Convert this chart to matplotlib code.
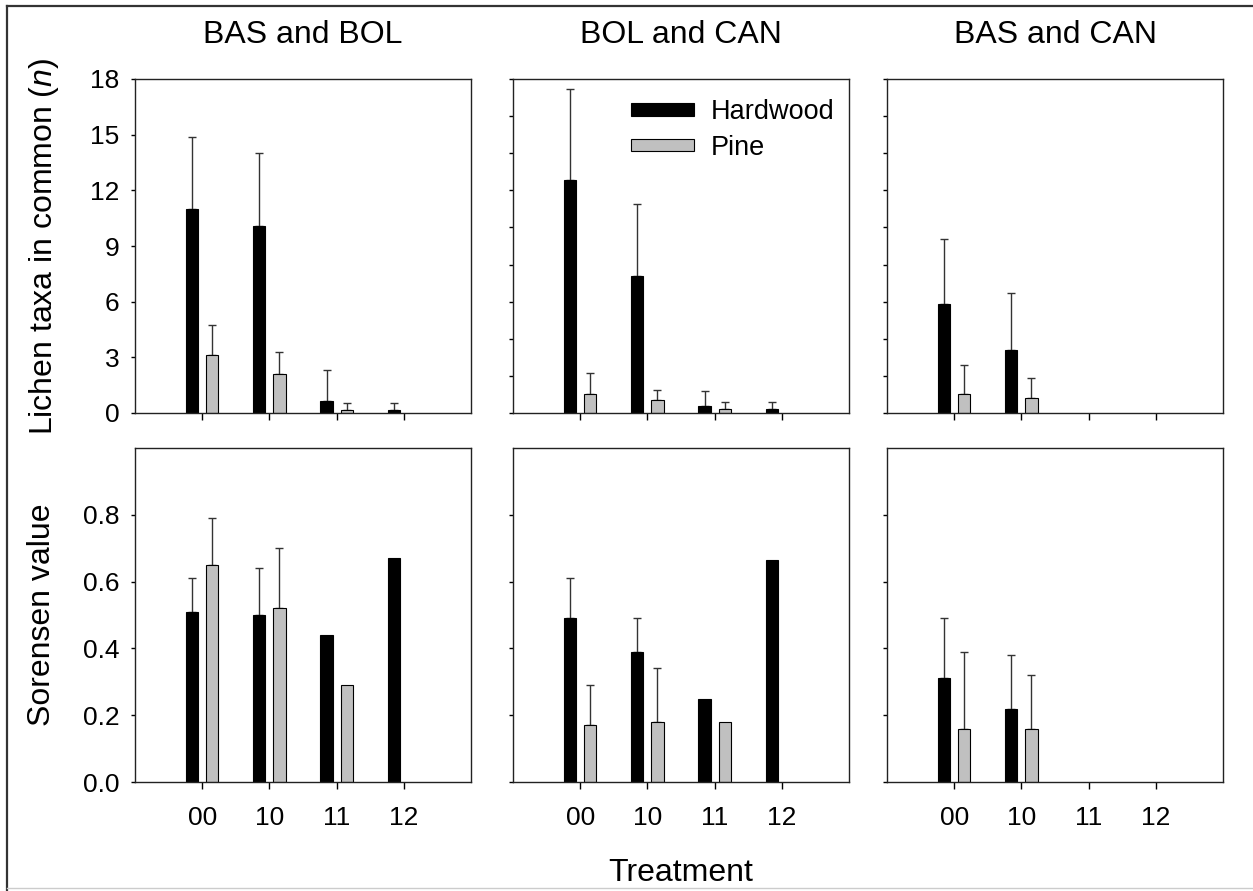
import numpy as np
import matplotlib
matplotlib.use("Agg")
import matplotlib.pyplot as plt
from matplotlib.lines import Line2D
from matplotlib.patches import Patch

plt.rcParams["font.family"] = ["Liberation Sans", "DejaVu Sans"]
plt.rcParams["mathtext.fontset"] = "custom"
plt.rcParams["mathtext.rm"] = "Liberation Sans"
plt.rcParams["mathtext.it"] = "Liberation Sans:italic"

treatments = ["00", "10", "11", "12"]
pairs = ["BAS and BOL", "BOL and CAN", "BAS and CAN"]

# lichen taxa in common (n): mean and upper SE, per pair
taxa_hard = [[11.0, 10.1, 0.65, 0.15],
             [12.55, 7.4, 0.4, 0.2],
             [5.9, 3.4, np.nan, np.nan]]
taxa_hard_se = [[3.9, 3.9, 1.65, 0.4],
                [4.9, 3.85, 0.8, 0.4],
                [3.5, 3.05, np.nan, np.nan]]
taxa_pine = [[3.15, 2.1, 0.15, np.nan],
             [1.05, 0.72, 0.2, np.nan],
             [1.05, 0.83, np.nan, np.nan]]
taxa_pine_se = [[1.6, 1.2, 0.4, np.nan],
                [1.1, 0.5, 0.4, np.nan],
                [1.55, 1.07, np.nan, np.nan]]

# Sorensen similarity
sor_hard = [[0.51, 0.50, 0.44, 0.67],
            [0.49, 0.39, 0.25, 0.665],
            [0.31, 0.22, np.nan, np.nan]]
sor_hard_se = [[0.10, 0.14, np.nan, np.nan],
               [0.12, 0.10, np.nan, np.nan],
               [0.18, 0.16, np.nan, np.nan]]
sor_pine = [[0.65, 0.52, 0.29, np.nan],
            [0.17, 0.18, 0.18, np.nan],
            [0.16, 0.16, np.nan, np.nan]]
sor_pine_se = [[0.14, 0.18, np.nan, np.nan],
               [0.12, 0.16, np.nan, np.nan],
               [0.23, 0.16, np.nan, np.nan]]

W, H = 1253, 891
fig = plt.figure(figsize=(W / 100, H / 100), dpi=100)

lefts = [135, 513, 887]
aw, ah = 336, 334
top_row_top, bot_row_top = 79, 448

HARD = "black"
PINE = "#c0c0c0"
off, bw = 0.15, 0.18


def draw(ax, hard, hard_se, pine, pine_se):
    x = np.arange(len(treatments))
    for vals, errs, dx, col in [(hard, hard_se, -off, HARD), (pine, pine_se, off, PINE)]:
        v = np.array(vals, dtype=float)
        e = np.array(errs, dtype=float)
        m = ~np.isnan(v)
        ax.bar(x[m] + dx, v[m], width=bw, color=col, edgecolor="black", linewidth=0.8, zorder=2)
        me = m & ~np.isnan(e)
        ax.errorbar(x[me] + dx, v[me], yerr=[np.zeros(me.sum()), e[me]], fmt="none",
                    ecolor="#333333", elinewidth=1.0, capsize=3, capthick=1.0, zorder=1)
    ax.set_xlim(-1, 4)
    ax.set_xticks(x)
    for s in ax.spines.values():
        s.set_linewidth(1.0)
        s.set_color("#222222")
    ax.tick_params(axis="x", direction="out", length=5, width=1, pad=12, labelsize=19)
    ax.tick_params(axis="y", direction="out", length=3, width=1, pad=8, labelsize=19)


for i in range(3):
    ax = fig.add_axes([lefts[i] / W, (H - top_row_top - ah) / H, aw / W, ah / H])
    draw(ax, taxa_hard[i], taxa_hard_se[i], taxa_pine[i], taxa_pine_se[i])
    ax.set_ylim(0, 18)
    ax.set_xticklabels([])
    if i == 0:
        ax.set_yticks(np.arange(0, 19, 3))
    else:
        ax.set_yticks(np.arange(0, 19, 2))
        ax.set_yticklabels([])
    ax.set_title(pairs[i], fontsize=23, pad=26)
    if i == 1:
        handles = [Patch(facecolor=HARD, edgecolor="black", linewidth=0.8),
                   Patch(facecolor=PINE, edgecolor="black", linewidth=0.8)]
        ax.legend(handles, ["Hardwood", "Pine"], loc="upper left", bbox_to_anchor=(0.351, 0.94),
                  frameon=False, fontsize=19.5, handlelength=2.33, handleheight=0.33,
                  handletextpad=0.6, labelspacing=0.36, borderpad=0, borderaxespad=0)

    ax2 = fig.add_axes([lefts[i] / W, (H - bot_row_top - ah) / H, aw / W, ah / H])
    draw(ax2, sor_hard[i], sor_hard_se[i], sor_pine[i], sor_pine_se[i])
    ax2.set_ylim(0, 1.0)
    ax2.set_yticks([0, 0.2, 0.4, 0.6, 0.8])
    ax2.set_xticklabels(treatments)
    if i == 0:
        ax2.set_yticklabels(["0.0", "0.2", "0.4", "0.6", "0.8"])
    else:
        ax2.set_yticklabels([])

fig.text(44 / W, 1 - 246 / H, "Lichen taxa in common ($\\mathit{n}$)", rotation=90,
         ha="center", va="center", fontsize=23)
fig.text(42 / W, 1 - 615 / H, "Sorensen value", rotation=90,
         ha="center", va="center", fontsize=23)
fig.text(681 / W, 10 / H, "Treatment", ha="center", va="baseline", fontsize=23)

# outer frame
fig.add_artist(Line2D([7 / W, 7 / W], [0, 1 - 6 / H], color="#333333", linewidth=1.6))
fig.add_artist(Line2D([7 / W, 1], [1 - 6 / H, 1 - 6 / H], color="#333333", linewidth=1.6))
fig.add_artist(Line2D([7 / W, 1], [3 / H, 3 / H], color="#cccccc", linewidth=1.0))

fig.savefig("out.png", dpi=100)
